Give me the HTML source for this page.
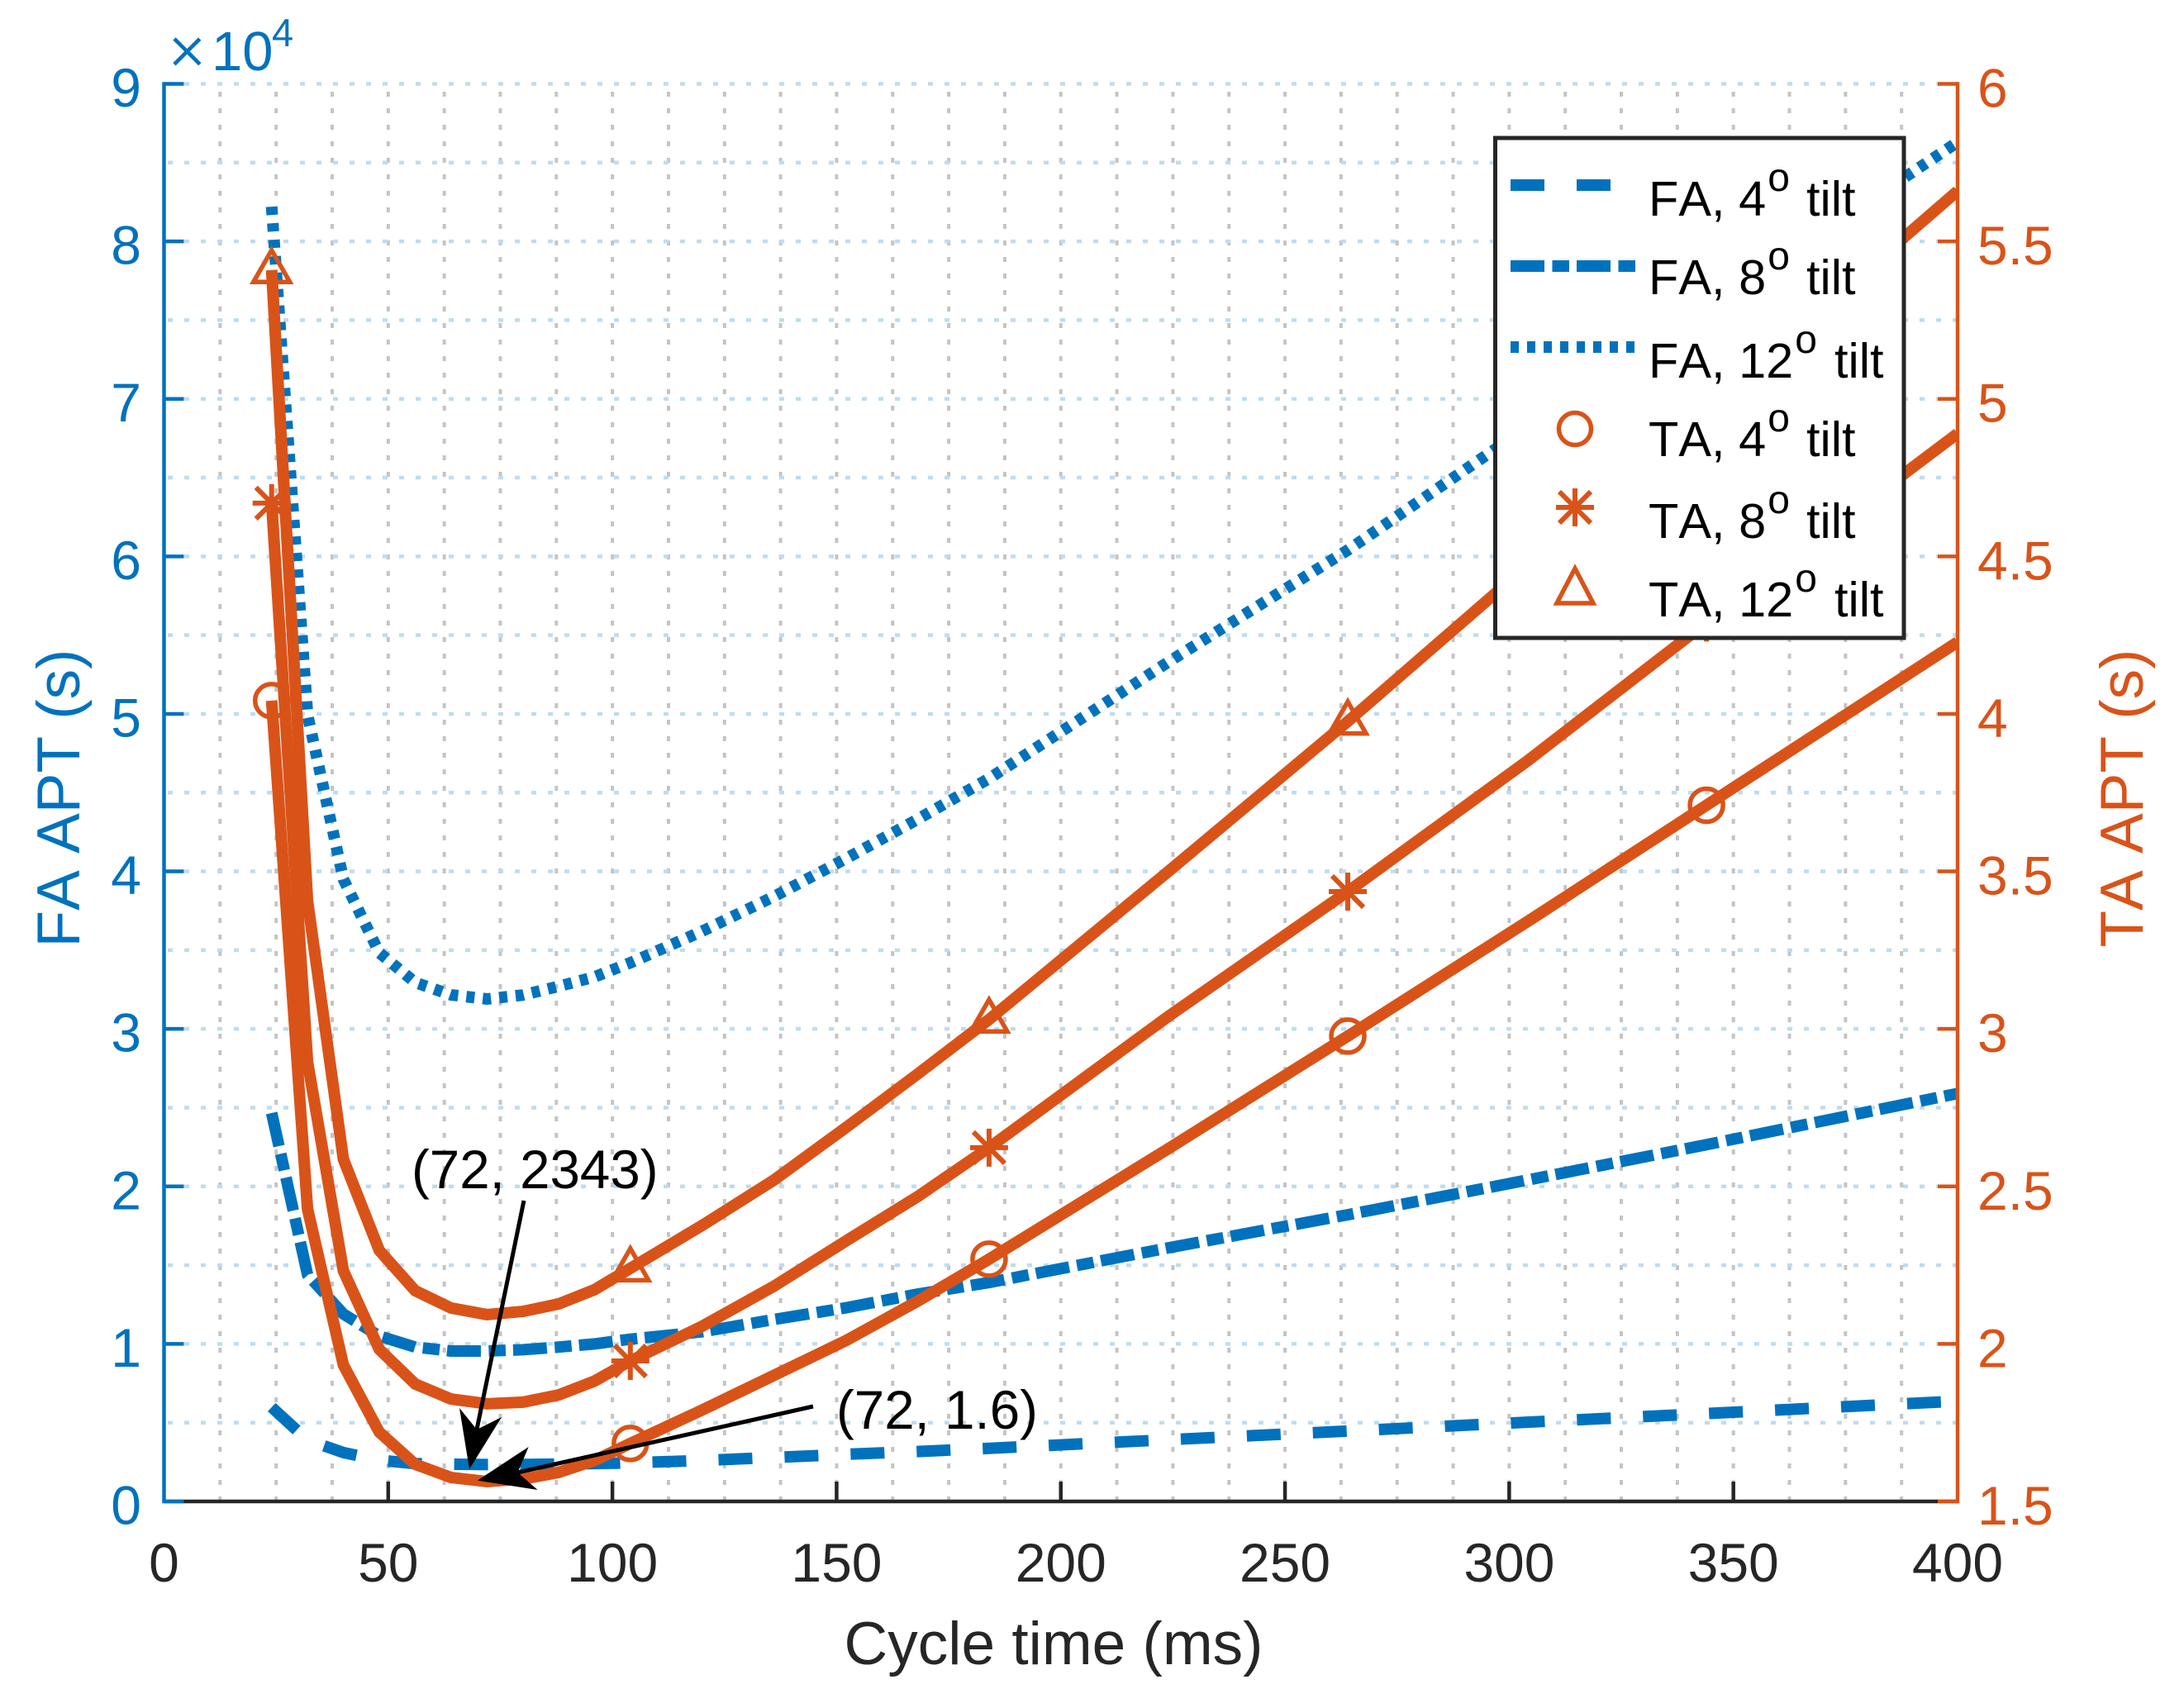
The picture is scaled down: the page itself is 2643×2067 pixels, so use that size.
<!DOCTYPE html>
<html lang="en">
<head>
<meta charset="utf-8">
<title>FA and TA APT vs cycle time</title>
<style>
html,body{margin:0;padding:0;background:#fff;width:2643px;height:2067px;overflow:hidden}
svg{display:block;position:absolute;left:0;top:0}
text{font-family:"Liberation Sans",Arial,sans-serif;font-kerning:none}
</style>
</head>
<body>
<svg id="chart" width="2643" height="2067" viewBox="0 0 2643 2067" xmlns="http://www.w3.org/2000/svg">
  <defs><clipPath id="plot-clip"><rect x="198.5" y="99" width="2170.5" height="1720"/></clipPath></defs>
  <g id="grid"></g>
  <g id="fa-lines" clip-path="url(#plot-clip)"></g>
  <g id="ta-lines" clip-path="url(#plot-clip)"></g>
  <g id="axes"></g>

  <text x="203" y="89" font-size="80" fill="#0072BD" stroke="#fff" stroke-width="1">×</text>
  <text x="256" y="85" font-size="67" fill="#0072BD">10</text>
  <text x="329" y="56" font-size="47" fill="#0072BD">4</text>

  <text x="1275" y="2014" font-size="73" fill="#262626" text-anchor="middle">Cycle time (ms)</text>
  <text transform="translate(96 966) rotate(-90)" font-size="73" fill="#0072BD" text-anchor="middle">FA APT (s)</text>
  <text transform="translate(2593 966) rotate(-90)" font-size="73" fill="#D95319" text-anchor="middle">TA APT (s)</text>

  <g>
    <text x="498" y="1438" font-size="65.5" fill="#000">(72, 2343)</text>
    <line x1="634" y1="1453" x2="577" y2="1730" stroke="#000" stroke-width="5"/>
    <polygon points="568,1778 556,1704 577,1730 607,1715" fill="#000"/>
  </g>
  <g>
    <text x="1012" y="1729" font-size="65.5" fill="#000">(72, 1.6)</text>
    <line x1="984" y1="1702" x2="626.5" y2="1782" stroke="#000" stroke-width="5"/>
    <polygon points="577.7,1791.7 639.7,1751 626.5,1782 650.6,1803" fill="#000"/>
  </g>

  <g>
    <rect x="1809.5" y="167" width="494.5" height="605" fill="#fff" stroke="#262626" stroke-width="5"/>

    <g>
      <line x1="1828" y1="224" x2="1979" y2="224" stroke="#0072BD" stroke-width="14" stroke-dasharray="41 39"/>
      <text x="1995" y="261" font-size="59.5" fill="#000">FA, 4<tspan font-size="48" dx="2" dy="-30">o</tspan><tspan x="2186" dy="30">tilt</tspan></text>
    </g>
    <g>
      <line x1="1828" y1="322" x2="1979" y2="322" stroke="#0072BD" stroke-width="14" stroke-dasharray="41 9.5 20.5 9"/>
      <text x="1995" y="356" font-size="59.5" fill="#000">FA, 8<tspan font-size="48" dx="2" dy="-30">o</tspan><tspan x="2186" dy="30">tilt</tspan></text>
    </g>
    <g>
      <line x1="1828" y1="420" x2="1979" y2="420" stroke="#0072BD" stroke-width="14" stroke-dasharray="10 10"/>
      <text x="1995" y="457" font-size="59.5" fill="#000">FA, 12<tspan font-size="48" dx="2" dy="-30">o</tspan><tspan x="2220" dy="30">tilt</tspan></text>
    </g>
    <g>
      <circle cx="1906" cy="519" r="19.5" fill="none" stroke="#D95319" stroke-width="5.5"/>
      <text x="1995" y="552" font-size="59.5" fill="#000">TA, 4<tspan font-size="48" dx="2" dy="-30">o</tspan><tspan x="2186" dy="30">tilt</tspan></text>
    </g>
    <g>
      <path d="M1906 591V637M1883 614H1929M1887 595L1925 633M1925 595L1887 633" fill="none" stroke="#D95319" stroke-width="6"/>
      <text x="1995" y="651" font-size="59.5" fill="#000">TA, 8<tspan font-size="48" dx="2" dy="-30">o</tspan><tspan x="2186" dy="30">tilt</tspan></text>
    </g>
    <g>
      <polygon points="1906,688 1928,730 1884,730" fill="none" stroke="#D95319" stroke-width="5.5"/>
      <text x="1995" y="746" font-size="59.5" fill="#000">TA, 12<tspan font-size="48" dx="2" dy="-30">o</tspan><tspan x="2220" dy="30">tilt</tspan></text>
    </g>
  </g>
</svg>
<script>
var cycleTimes = [24,32,40,48,56,64,72,80,88,96,104,120,136,152,168,184,224,264,304,344,400];
var fa4Tilt = [0.598,0.39,0.31,0.262,0.24,0.236,0.234,0.235,0.237,0.24,0.245,0.26,0.279,0.299,0.317,0.337,0.392,0.447,0.503,0.558,0.637];
var fa8Tilt = [2.466,1.44,1.19,1.05,0.98,0.955,0.955,0.963,0.98,1.0,1.03,1.077,1.155,1.229,1.316,1.39,1.61,1.82,2.04,2.265,2.59];
var fa12Tilt = [8.22,4.995,3.95,3.484,3.295,3.216,3.19,3.215,3.27,3.33,3.42,3.62,3.84,4.08,4.33,4.59,5.33,6.04,6.82,7.57,8.63];
var ta4Tilt = [4.042,2.429,1.933,1.72,1.618,1.576,1.563,1.571,1.592,1.63,1.684,1.79,1.90,2.01,2.135,2.269,2.62,2.977,3.34,3.71,4.228];
var ta8Tilt = [4.669,2.896,2.232,1.983,1.873,1.825,1.81,1.815,1.838,1.882,1.946,2.056,2.183,2.326,2.467,2.623,3.04,3.436,3.85,4.29,4.89];
var ta12Tilt = [5.409,3.407,2.586,2.297,2.169,2.114,2.093,2.103,2.127,2.172,2.24,2.376,2.52,2.686,2.856,3.03,3.50,3.976,4.47,4.97,5.66];
var markerTimes = [24,104,184,264,344];
var xTicks = [0,50,100,150,200,250,300,350,400];
var leftTicks = [0,1,2,3,4,5,6,7,8,9];
var rightTicks = [1.5,2,2.5,3,3.5,4,4.5,5,5.5,6];
var xGridValues = [12.5,25,37.5,50,62.5,75,87.5,100,112.5,125,137.5,150,162.5,175,187.5,200,212.5,225,237.5,250,262.5,275,287.5,300,312.5,325,337.5,350,362.5,375,387.5];
var yGridValues = [0.5,1,1.5,2,2.5,3,3.5,4,4.5,5,5.5,6,6.5,7,7.5,8,8.5,9];

var NS = 'http://www.w3.org/2000/svg';
var LEFT = 198.5, RIGHT = 2369, TOP = 101.5, BOTTOM = 1817;
var BLUE = '#0072BD', ORANGE = '#D95319', DARK = '#262626';

function xScale(v) { return LEFT + (v / 400) * (RIGHT - LEFT); }
function yLeft(v) { return BOTTOM - (v / 9) * (BOTTOM - TOP); }
function yRight(v) { return BOTTOM - ((v - 1.5) / 4.5) * (BOTTOM - TOP); }

function make(tag, attrs, parent) {
  var el = document.createElementNS(NS, tag);
  for (var k in attrs) { el.setAttribute(k, attrs[k]); }
  parent.appendChild(el);
  return el;
}

var grid = document.getElementById('grid');
var axes = document.getElementById('axes');
var faLines = document.getElementById('fa-lines');
var taLines = document.getElementById('ta-lines');

xGridValues.forEach(function (v) {
  var l = make('line', {x1: xScale(v), x2: xScale(v), y1: BOTTOM, y2: TOP, stroke: '#c4c4c4', 'stroke-width': 4, 'stroke-dasharray': '6 14'}, grid);
  
  
});
yGridValues.forEach(function (v) {
  var l = make('line', {x1: LEFT + 4.5, x2: RIGHT, y1: yLeft(v), y2: yLeft(v), stroke: '#bfdcef', 'stroke-width': 4.5, 'stroke-dasharray': '6 14'}, grid);
  
  
});

function linePath(values, yFn) {
  return values.map(function (v, i) {
    return (i ? 'L' : 'M') + xScale(cycleTimes[i]).toFixed(2) + ' ' + yFn(v).toFixed(2);
  }).join('');
}

function drawFa(values, dash, name) {
  var p = make('path', {d: linePath(values, yLeft), fill: 'none', stroke: BLUE, 'stroke-width': 14, 'stroke-dasharray': dash, 'stroke-linejoin': 'miter'}, faLines);
  
  
}
drawFa(fa4Tilt, '41 39', 'line-fa-4-tilt');
drawFa(fa8Tilt, '41 9.5 20.5 9', 'line-fa-8-tilt');
drawFa(fa12Tilt, '10 10', 'line-fa-12-tilt');

function markerShape(kind, cx, cy) {
  if (kind === 'circle') {
    return make('circle', {cx: cx, cy: cy, r: 20, fill: 'none', stroke: ORANGE, 'stroke-width': 5.5}, taLines);
  }
  if (kind === 'star') {
    var d = 'M' + cx + ' ' + (cy - 23) + 'V' + (cy + 23) +
            'M' + (cx - 23) + ' ' + cy + 'H' + (cx + 23) +
            'M' + (cx - 19) + ' ' + (cy - 19) + 'L' + (cx + 19) + ' ' + (cy + 19) +
            'M' + (cx + 19) + ' ' + (cy - 19) + 'L' + (cx - 19) + ' ' + (cy + 19);
    return make('path', {d: d, fill: 'none', stroke: ORANGE, 'stroke-width': 6}, taLines);
  }
  var pts = cx + ',' + (cy - 24) + ' ' + (cx + 22) + ',' + (cy + 14.5) + ' ' + (cx - 22) + ',' + (cy + 14.5);
  return make('polygon', {points: pts, fill: 'none', stroke: ORANGE, 'stroke-width': 5.5}, taLines);
}

function drawTa(values, kind, name) {
  markerTimes.forEach(function (t) {
    var i = cycleTimes.indexOf(t);
    var m = markerShape(kind, xScale(t), yRight(values[i]));
    
    
  });
  var p = make('path', {d: linePath(values, yRight), fill: 'none', stroke: ORANGE, 'stroke-width': 14, 'stroke-linejoin': 'miter'}, taLines);
  
  
}
drawTa(ta4Tilt, 'circle', 'line-ta-4-tilt');
drawTa(ta8Tilt, 'star', 'line-ta-8-tilt');
drawTa(ta12Tilt, 'triangle', 'line-ta-12-tilt');

var xAxisLine = make('line', {x1: LEFT, x2: RIGHT, y1: BOTTOM, y2: BOTTOM, stroke: DARK, 'stroke-width': 4.5}, axes);


var leftAxisLine = make('line', {x1: LEFT, x2: LEFT, y1: TOP - 2.2, y2: BOTTOM + 2.2, stroke: BLUE, 'stroke-width': 4.5}, axes);


var rightAxisLine = make('line', {x1: RIGHT, x2: RIGHT, y1: TOP - 2.2, y2: BOTTOM + 2.2, stroke: ORANGE, 'stroke-width': 4.5}, axes);



xTicks.forEach(function (v) {
  var x = xScale(v);
  if (v > 0 && v < 400) {
    var t = make('line', {x1: x, x2: x, y1: BOTTOM, y2: BOTTOM - 24, stroke: DARK, 'stroke-width': 4.5}, axes);
    
    
  }
  var label = make('text', {x: x, y: 1914, 'font-size': 66, fill: DARK, 'text-anchor': 'middle'}, axes);
  label.textContent = String(v);
  
  
});
leftTicks.forEach(function (v) {
  var y = yLeft(v);
  var t = make('line', {x1: LEFT, x2: LEFT + 24, y1: y, y2: y, stroke: BLUE, 'stroke-width': 4.5}, axes);
  
  
  var label = make('text', {x: 171, y: y + 27.5, 'font-size': 66, fill: BLUE, 'text-anchor': 'end'}, axes);
  label.textContent = String(v);
  
  
});
rightTicks.forEach(function (v) {
  var y = yRight(v);
  var t = make('line', {x1: RIGHT, x2: RIGHT - 24, y1: y, y2: y, stroke: ORANGE, 'stroke-width': 4.5}, axes);
  
  
  var label = make('text', {x: 2393, y: y + 28, 'font-size': 66, fill: ORANGE}, axes);
  label.textContent = String(v);
  
  
});
</script>
</body>
</html>
